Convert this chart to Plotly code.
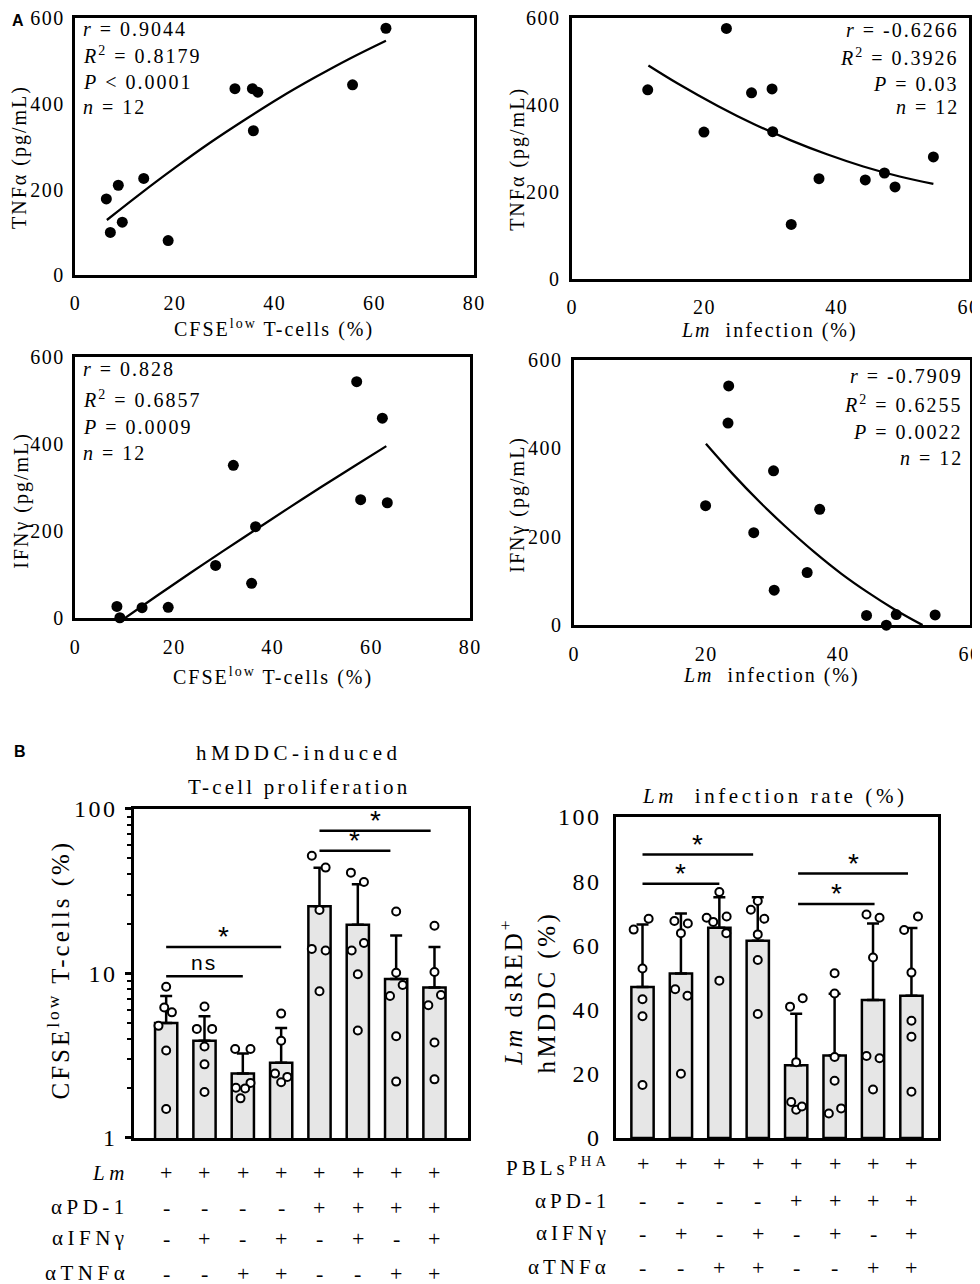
import math
import plotly.graph_objects as go

W, H = 980, 1284
SERIF = "Liberation Serif, Times New Roman, serif"
SANS = "Liberation Sans, Arial, sans-serif"

# ---- Panel A: correlations ----
tnf_cfse_x = [6.2, 7.0, 8.6, 9.4, 13.7, 18.6, 32.0, 35.5, 36.6, 35.7, 55.6, 62.3]
tnf_cfse_y = [178, 100, 210, 124, 226, 81, 435, 435, 427, 337, 444, 576]
tnf_cfse_fit_x = [6.3, 13, 20, 27, 34.3, 41, 48, 55, 62.3]
tnf_cfse_fit_y = [129, 190, 251, 309, 365, 414, 461, 505, 547]
tnf_cfse_stats = ["<i>r</i> = 0.9044", "<i>R</i><sup>2</sup> = 0.8179", "<i>P</i> &lt; 0.0001", "<i>n</i> = 12"]

tnf_lm_x = [11.4, 19.9, 23.3, 27.1, 30.2, 30.3, 33.1, 37.3, 44.3, 47.2, 48.8, 54.6]
tnf_lm_y = [435, 338, 576, 428, 437, 339, 126, 231, 228, 244, 212, 281]
tnf_lm_fit_x = [11.5, 16, 22, 27.5, 33.05, 38.5, 44, 49.5, 54.6]
tnf_lm_fit_y = [491, 449, 398, 356, 319, 287, 259, 236, 219]
tnf_lm_stats = ["<i>r</i> = -0.6266", "<i>R</i><sup>2</sup> = 0.3926", "<i>P</i> = 0.03", "<i>n</i> = 12"]

ifn_cfse_x = [8.4, 9.0, 13.5, 18.8, 28.4, 32.0, 35.7, 36.5, 57.0, 57.8, 62.2, 63.2]
ifn_cfse_y = [27, 1, 24, 25, 121, 351, 80, 210, 543, 272, 459, 265]
ifn_cfse_fit_x = [10, 16.6, 23.2, 29.9, 36.5, 43.1, 49.8, 56.4, 63]
ifn_cfse_fit_y = [0, 52, 103, 154, 203, 252, 301, 348, 395]
ifn_cfse_stats = ["<i>r</i> = 0.828", "<i>R</i><sup>2</sup> = 0.6857", "<i>P</i> = 0.0009", "<i>n</i> = 12"]

ifn_lm_x = [19.9, 23.4, 23.3, 27.2, 30.2, 30.3, 35.3, 37.2, 44.3, 47.3, 48.8, 54.7]
ifn_lm_y = [270, 541, 457, 209, 349, 79, 119, 262, 22, 0, 24, 23]
ifn_lm_fit_x = [19.95, 24, 28, 32, 36.4, 40.5, 44.5, 48.5, 52.8]
ifn_lm_fit_y = [410, 342, 280, 223, 165, 116, 74, 36, 0]
ifn_lm_stats = ["<i>r</i> = -0.7909", "<i>R</i><sup>2</sup> = 0.6255", "<i>P</i> = 0.0022", "<i>n</i> = 12"]

# ---- Panel B: bar charts ----
prolif_mean = [5.0, 3.9, 2.46, 2.86, 25.6, 19.8, 9.25, 8.2]
prolif_sd = [2.3, 1.6, 0.8, 1.8, 18.3, 15.1, 7.75, 6.3]
prolif_dots = [
    [8.3, 6.2, 5.8, 4.8, 3.4, 1.5],
    [6.3, 4.6, 4.6, 3.6, 2.8, 1.9],
    [3.47, 3.47, 2.16, 2.02, 2.0, 1.74],
    [5.7, 3.9, 2.46, 2.35, 2.18],
    [52, 44, 24.3, 14.1, 13.8, 7.8],
    [41, 36, 13.8, 15.3, 9.9, 4.5],
    [23.8, 10.1, 8.5, 7.3, 4.15, 2.2],
    [19.5, 10.2, 7.4, 6.4, 3.8, 2.27],
]
prolif_jitter = [
    [0, -0.05, 0.15, -0.2, 0, 0],
    [0, -0.2, 0.2, 0, 0, 0],
    [-0.2, 0.2, 0.2, -0.18, 0.06, -0.06],
    [0, 0, -0.16, 0.16, 0],
    [-0.2, 0.16, 0, -0.2, 0.16, 0],
    [-0.18, 0.16, -0.16, 0.16, 0, 0],
    [0, 0, 0.17, -0.16, 0, 0],
    [0, 0, 0.17, -0.16, 0, 0],
]
prolif_sig = [(0, 2, 9.6, "ns"), (0, 3, 14.5, "*"), (4, 5.85, 55.8, "*"), (4, 6.9, 73.7, "*")]

infect_mean = [47.0, 51.2, 65.5, 61.4, 22.6, 25.7, 43.0, 44.3]
infect_sd = [19.5, 18.7, 9.5, 13.6, 16.1, 19.2, 23.8, 21.1]
infect_dots = [
    [64.9, 68.3, 52.8, 43.2, 37.9, 16.5],
    [67.6, 66.8, 63.8, 46.3, 44.3, 20.0],
    [68.6, 67.3, 69.0, 76.6, 63.8, 49.0],
    [71.1, 73.8, 68.3, 63.4, 55.4, 38.6],
    [40.9, 43.5, 23.6, 11.2, 8.8, 9.8],
    [51.3, 45.0, 25.2, 17.8, 7.6, 9.2],
    [69.6, 68.6, 56.2, 25.5, 24.8, 15.1],
    [64.8, 69.0, 51.5, 36.5, 31.5, 14.4],
]
infect_jitter = [
    [-0.23, 0.16, 0, 0, 0, 0],
    [-0.17, 0.18, 0, -0.15, 0.17, 0],
    [-0.33, -0.16, 0.19, 0, 0.18, 0],
    [-0.18, 0, 0.17, 0, 0, 0],
    [-0.16, 0.17, 0, -0.13, 0, 0.15],
    [0, 0, 0, 0, -0.15, 0.17],
    [-0.17, 0.17, 0, -0.17, 0.17, 0],
    [-0.19, 0.17, 0, 0, 0, 0],
]
infect_sig = [(0, 2.0, 79.2, "*"), (0, 2.88, 88.3, "*"), (4.05, 6.04, 72.9, "*"), (4.05, 6.91, 82.4, "*")]

# condition tables under the bars
rows_left = ["<i>Lm</i>", "αPD-1", "αIFNγ", "αTNFα"]
rows_right = ["PBLs<sup>PHA</sup>", "αPD-1", "αIFNγ", "αTNFα"]
cond_signs = [
    ["+", "+", "+", "+", "+", "+", "+", "+"],
    ["-", "-", "-", "-", "+", "+", "+", "+"],
    ["-", "+", "-", "+", "-", "+", "-", "+"],
    ["-", "-", "+", "+", "-", "-", "+", "+"],
]

corr_x_ticks = [0, 20, 40, 60, 80]
corr_y_ticks = [0, 200, 400, 600]
prolif_ticks = [1, 10, 100]
infect_ticks = [0, 20, 40, 60, 80, 100]

# the page adds an 8px body margin, so squeeze the layout into the visible area
SX = (W - 8) / W
SY = (H - 8) / H


def fx(p):
    return p * SX / W


def fy(p):
    return 1 - p * SY / H


def sp(s, ls):
    # the original uses widely tracked lettering
    return '<span style="letter-spacing:%spx">%s</span>' % (ls, s)


fig = go.Figure()
annotations = []


def label(x, y, s, size=21, xanchor="center", angle=0, family=SERIF, ls=2):
    annotations.append(dict(x=x, y=y, xref="paper", yref="paper", text=sp(s, ls) if ls else s,
                            showarrow=False, xanchor=xanchor, yanchor="middle", textangle=angle,
                            font=dict(family=family, size=size, color="black")))


def set_axes(n, xdom, ydom, xaxis, yaxis, size=20):
    ax = "" if n == 1 else str(n)
    common = dict(showline=True, mirror=True, linecolor="black", linewidth=2.5, showgrid=False,
                  zeroline=False, automargin=False, ticklabeloverflow="allow",
                  tickfont=dict(family=SERIF, size=size, color="black"))
    fig.update_layout(**{
        "xaxis" + ax: dict(common, domain=[fx(xdom[0]), fx(xdom[1])], anchor="y" + ax, **xaxis),
        "yaxis" + ax: dict(common, domain=[fy(ydom[1]), fy(ydom[0])], anchor="x" + ax, **yaxis),
    })


def ticks(vals, ls):
    return dict(tickmode="array", tickvals=vals, ticktext=[sp(v, ls) for v in vals])


def scatter_panel(n, xs, ys, fit_x, fit_y):
    ax = "" if n == 1 else str(n)
    fig.add_trace(go.Scatter(x=fit_x, y=fit_y, mode="lines", hoverinfo="skip",
                             line=dict(color="black", width=2.3, shape="spline"),
                             xaxis="x" + ax, yaxis="y" + ax))
    fig.add_trace(go.Scatter(x=xs, y=ys, mode="markers", cliponaxis=False,
                             marker=dict(color="black", size=11),
                             xaxis="x" + ax, yaxis="y" + ax))


def bar_panel(n, mean, sd, dots, jitter, sig, log=False):
    ax = str(n)
    idx = list(range(len(mean)))
    fig.add_trace(go.Bar(x=idx, y=mean, width=0.58, xaxis="x" + ax, yaxis="y" + ax,
                         marker=dict(color="#e6e6e6", line=dict(color="black", width=2.5)),
                         error_y=dict(type="data", symmetric=False, array=sd, arrayminus=[0] * len(sd),
                                      color="black", thickness=2.5, width=6)))
    dx, dy = [], []
    for i, (vals, jit) in enumerate(zip(dots, jitter)):
        dx += [i + j for j in jit]
        dy += vals
    fig.add_trace(go.Scatter(x=dx, y=dy, mode="markers", cliponaxis=False, xaxis="x" + ax, yaxis="y" + ax,
                             marker=dict(color="white", size=8, line=dict(color="black", width=2))))
    for a, b, v, s in sig:
        fig.add_trace(go.Scatter(x=[a, b], y=[v, v], mode="lines", line=dict(color="black", width=2.5),
                                 xaxis="x" + ax, yaxis="y" + ax, hoverinfo="skip"))
        star = s == "*"
        annotations.append(dict(x=(a + b) / 2, y=math.log10(v) if log else v, xref="x" + ax, yref="y" + ax,
                                text=s if star else sp(s, 2), showarrow=False, xanchor="center",
                                yanchor="middle", yshift=10 if star else 14,
                                font=dict(family=SANS, size=28 if star else 21, color="black")))


# ---- panel A ----
scatter_panel(1, tnf_cfse_x, tnf_cfse_y, tnf_cfse_fit_x, tnf_cfse_fit_y)
scatter_panel(2, tnf_lm_x, tnf_lm_y, tnf_lm_fit_x, tnf_lm_fit_y)
scatter_panel(3, ifn_cfse_x, ifn_cfse_y, ifn_cfse_fit_x, ifn_cfse_fit_y)
scatter_panel(4, ifn_lm_x, ifn_lm_y, ifn_lm_fit_x, ifn_lm_fit_y)

set_axes(1, (68, 470), (10, 269), dict(range=[0, 80], ticklabelstandoff=8, **ticks(corr_x_ticks, 1.5)),
         dict(range=[0, 600], ticklabelstandoff=4, **ticks(corr_y_ticks, 1.5)))
set_axes(2, (569, 969), (10, 273), dict(range=[0, 60], ticklabelstandoff=8, **ticks(corr_x_ticks[:4], 1.5)),
         dict(range=[0, 600], ticklabelstandoff=5, **ticks(corr_y_ticks, 1.5)))
set_axes(3, (68, 466), (351, 614), dict(range=[0, 80], ticklabelstandoff=9, **ticks(corr_x_ticks, 1.5)),
         dict(range=[0, 600], ticklabelstandoff=4, **ticks(corr_y_ticks, 1.5)))
set_axes(4, (571, 970), (354, 621), dict(range=[0, 60], ticklabelstandoff=9, **ticks(corr_x_ticks[:4], 1.5)),
         dict(range=[0, 600], ticklabelstandoff=5, **ticks(corr_y_ticks, 1.5)))

for i, s in enumerate(tnf_cfse_stats):
    label(fx(74), fy([21, 47, 74, 100][i]), s, size=20, xanchor="left")
for i, s in enumerate(tnf_lm_stats):
    label(fx(961), fy([22, 49, 76, 100][i]), s, size=20, xanchor="right")
for i, s in enumerate(ifn_cfse_stats):
    label(fx(74), fy([363, 393, 422, 448][i]), s, size=20, xanchor="left")
for i, s in enumerate(ifn_lm_stats):
    label(fx(965), fy([370, 398, 427, 453][i]), s, size=20, xanchor="right")

label(fx(268), fy(323), "CFSE<sup>low</sup> T-cells (%)", size=20)
label(fx(768), fy(325), "<i>Lm</i>  infection (%)", size=20)
label(fx(267), fy(673), "CFSE<sup>low</sup> T-cells (%)", size=20)
label(fx(770), fy(672), "<i>Lm</i>  infection (%)", size=20)
label(fx(11), fy(150), "TNFα (pg/mL)", size=20, angle=-90)
label(fx(513), fy(152), "TNFα (pg/mL)", size=20, angle=-90)
label(fx(14), fy(495), "IFNγ (pg/mL)", size=20, angle=-90)
label(fx(514), fy(499), "IFNγ (pg/mL)", size=20, angle=-90)

# ---- panel B ----
bar_panel(5, prolif_mean, prolif_sd, prolif_dots, prolif_jitter, prolif_sig, log=True)
bar_panel(6, infect_mean, infect_sd, infect_dots, infect_jitter, infect_sig)

set_axes(5, (127, 464), (806, 1137), dict(range=[-0.84, 7.88], showticklabels=False),
         dict(type="log", range=[0, 2], ticks="outside", ticklen=6, tickwidth=2.5,
              tickcolor="black", ticklabelstandoff=3, **ticks(prolif_ticks, 2.5),
              minor=dict(ticks="outside", dtick="D1", ticklen=4, tickwidth=1.5, tickcolor="black")),
         size=24)
set_axes(6, (613, 938), (814, 1137), dict(range=[-0.69, 7.70], showticklabels=False),
         dict(range=[0, 100], ticklabelstandoff=7, **ticks(infect_ticks, 2.5)), size=24)

label(fx(293), fy(750), "hMDDC-induced", size=21, ls=4.5)
label(fx(293), fy(784), "T-cell proliferation", size=21, ls=3.2)
label(fx(773), fy(793), "<i>Lm</i>  infection rate (%)", size=21, ls=3.6)
label(fx(52), fy(968), "CFSE<sup>low</sup> T-cells (%)", size=25, angle=-90, ls=3)
label(fx(507), fy(990), "<i>Lm</i> dsRED<sup>+</sup>", size=25, angle=-90, ls=3)
label(fx(543), fy(990), "hMDDC (%)", size=25, angle=-90, ls=3.5)

row_y_left = [1172, 1207, 1238, 1273]
row_y_right = [1163, 1200, 1233, 1267]
for r, (name_l, name_r) in enumerate(zip(rows_left, rows_right)):
    label(fx(124), fy(row_y_left[r]), name_l, size=21, xanchor="right", ls=4.5)
    label(fx(609), fy(row_y_right[r] + 3 if r == 0 else row_y_right[r]), name_r, size=21,
          xanchor="right", ls=4)
    for c, s in enumerate(cond_signs[r]):
        for xr, ry in (("x5", row_y_left[r]), ("x6", row_y_right[r])):
            annotations.append(dict(x=c, y=fy(ry), xref=xr, yref="paper", text=s, showarrow=False,
                                    xanchor="center", yanchor="middle",
                                    font=dict(family=SERIF, size=22, color="black")))

label(fx(10), fy(13), "<b>A</b>", size=16, family=SANS, ls=0)
label(fx(12), fy(748), "<b>B</b>", size=16, family=SANS, ls=0)

fig.update_layout(width=W, height=H, margin=dict(l=0, r=0, t=0, b=0), showlegend=False,
                  plot_bgcolor="white", paper_bgcolor="white", annotations=annotations)

fig.write_html("out.html")
